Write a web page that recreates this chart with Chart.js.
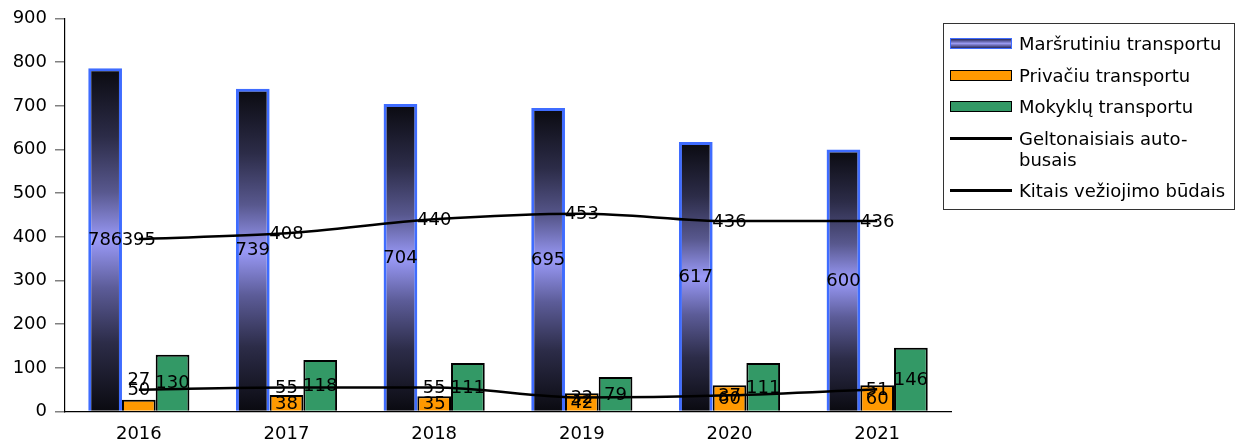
<!DOCTYPE html>
<html><head><meta charset="utf-8">
<script src="https://cdn.jsdelivr.net/npm/chart.js@4"></script>
<style>
html,body{margin:0;padding:0;background:#fff;}
#wrap{position:relative;width:1239px;height:446px;overflow:hidden;}
#c{position:absolute;left:0;top:0;}
#legend{position:absolute;left:943px;top:23px;width:292px;height:187px;border:1px solid #333;box-sizing:border-box;font-family:'DejaVu Sans';font-size:18px;color:#000;padding-top:9px;}
.row{position:relative;margin-bottom:10.5px;line-height:21px;}
.sw{position:absolute;left:6px;top:5px;width:62px;height:11px;box-sizing:border-box;}
.ln{position:absolute;left:6px;top:9px;width:62px;height:3px;background:#000;}
.txt{margin-left:75px;white-space:pre-line;}
</style></head>
<body>
<div id="wrap"><canvas id="c" width="1239" height="446"></canvas><div id="legend"></div></div>
<script>
const categories = ['2016','2017','2018','2019','2020','2021'];
const marsrutiniu = [786, 739, 704, 695, 617, 600];
const privaciu = [27, 38, 35, 42, 60, 60];
const mokyklu = [130, 118, 111, 79, 111, 146];
const geltonaisiais = [395, 408, 440, 453, 436, 436];
const kitais = [50, 55, 55, 32, 37, 51];
const seriesNames = ['Maršrutiniu transportu','Privačiu transportu','Mokyklų transportu','Geltonaisiais auto-\nbusais','Kitais vežiojimo būdais'];
const yMin = 0, yMax = 900, yStep = 100;

const FONT = '"DejaVu Sans"';
const FSIZE = 18;

function blueGradient(context){
  const chart = context.chart;
  const y = chart.scales.y;
  if (!chart.chartArea || !y) return '#8888ee';
  const top = y.getPixelForValue(context.raw);
  const base = y.getPixelForValue(0);
  if (!isFinite(top) || !isFinite(base) || top === base) return '#8888ee';
  const g = chart.ctx.createLinearGradient(0, top, 0, base);
  g.addColorStop(0, '#0a0a10');
  g.addColorStop(0.2, '#2c2c48');
  g.addColorStop(0.36, '#58588e');
  g.addColorStop(0.5, '#9a9af8');
  g.addColorStop(0.64, '#5c5c98');
  g.addColorStop(0.8, '#2c2c48');
  g.addColorStop(1, '#0a0a10');
  return g;
}

const labelPlugin = {
  id: 'valueLabels',
  afterDatasetsDraw(chart){
    const ctx = chart.ctx;
    ctx.save();
    ctx.font = FSIZE + 'px ' + FONT;
    ctx.fillStyle = '#000';
    ctx.textAlign = 'center';
    ctx.textBaseline = 'middle';
    chart.data.datasets.forEach((ds, i) => {
      const meta = chart.getDatasetMeta(i);
      meta.data.forEach((el, j) => {
        const v = ds.data[j];
        let y;
        if (meta.type === 'bar') {
          const h = el.base - el.y;
          y = h < 14 ? el.y - 20 : (el.y + el.base) / 2;
        } else {
          y = el.y;
        }
        ctx.fillText(String(v), el.x, y + 1);
      });
    });
    ctx.restore();
  }
};

const chart = new Chart(document.getElementById('c'), {
  data: {
    labels: categories,
    datasets: [
      {type:'bar', label: seriesNames[0], data: marsrutiniu, backgroundColor: blueGradient, borderColor:'#3f6cff', borderWidth:3, order:2},
      {type:'bar', label: seriesNames[1], data: privaciu, backgroundColor:'#ff9900', borderColor:'#000', borderWidth:2, order:2},
      {type:'bar', label: seriesNames[2], data: mokyklu, backgroundColor:'#339966', borderColor:'#000', borderWidth:2, order:2},
      {type:'line', label: seriesNames[3], data: geltonaisiais, borderColor:'#000', borderWidth:2.5, pointRadius:0, fill:false, cubicInterpolationMode:'monotone', order:1},
      {type:'line', label: seriesNames[4], data: kitais, borderColor:'#000', borderWidth:2.5, pointRadius:0, fill:false, cubicInterpolationMode:'monotone', order:1}
    ]
  },
  options: {
    responsive:false,
    animation:false,
    devicePixelRatio:1,
    layout:{padding:{top:18.5, right:288, left:0, bottom:0}},
    datasets:{bar:{barPercentage:1, categoryPercentage:0.685}},
    plugins:{legend:{display:false}, tooltip:{enabled:false}},
    scales:{
      x:{
        offset:true,
        grid:{display:false, drawTicks:false, tickLength:0},
        border:{display:true, color:'#000', width:1.2},
        ticks:{font:{family:FONT, size:FSIZE}, color:'#000', padding:12, maxRotation:0},
        afterFit(s){ s.height = 34.5; s.paddingLeft = 0; s.paddingRight = 0; }
      },
      y:{
        min:yMin, max:yMax,
        grid:{display:true, drawOnChartArea:false, drawTicks:true, tickLength:10, color:'#808080', lineWidth:1.5},
        border:{display:true, color:'#000', width:1.2},
        ticks:{stepSize:yStep, font:{family:FONT, size:FSIZE}, color:'#000', padding:8},
        afterFit(s){ s.width = 65; s.paddingTop = 0; s.paddingBottom = 0; }
      }
    }
  },
  plugins:[labelPlugin]
});

// HTML legend built from datasets
const legend = document.getElementById('legend');
chart.data.datasets.forEach((ds) => {
  const row = document.createElement('div');
  row.className = 'row';
  if (ds.type === 'bar') {
    const sw = document.createElement('div');
    sw.className = 'sw';
    if (typeof ds.backgroundColor === 'function') {
      sw.style.background = 'linear-gradient(to bottom,#2a2a5a,#9a9af0 50%,#2a2a5a)';
      sw.style.border = '1.5px solid ' + ds.borderColor;
    } else {
      sw.style.background = ds.backgroundColor;
      sw.style.border = '1.5px solid #000';
    }
    row.appendChild(sw);
  } else {
    const ln = document.createElement('div');
    ln.className = 'ln';
    row.appendChild(ln);
  }
  const t = document.createElement('div');
  t.className = 'txt';
  t.textContent = ds.label;
  row.appendChild(t);
  legend.appendChild(row);
});
</script>
</body></html>
